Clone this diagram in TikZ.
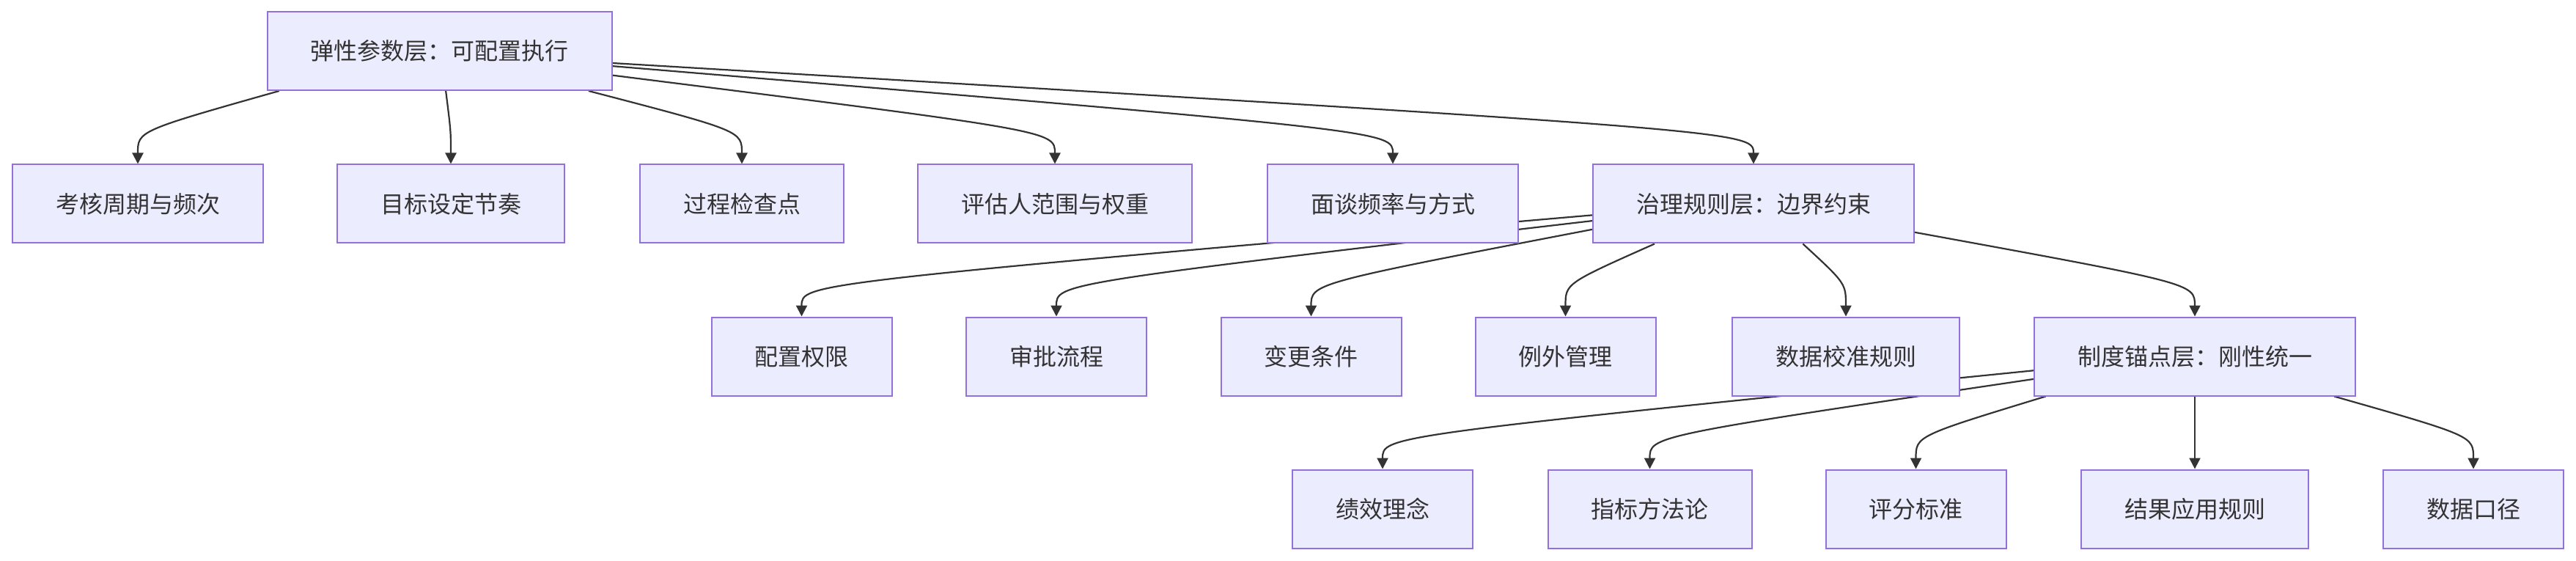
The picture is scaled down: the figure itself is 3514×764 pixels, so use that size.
\documentclass[tikz,border=0pt]{standalone}
\usepackage{fontspec}
\newfontfamily\cjkfont{Noto Sans CJK SC}
\usepackage{xcolor}
\definecolor{node-fill}{HTML}{ECECFF}
\definecolor{node-line}{HTML}{9370DB}
\definecolor{jet}{HTML}{333333}
\usetikzlibrary{arrows.meta}
\pgfdeclarelayer{bg}
\pgfsetlayers{bg,main}

\begin{document}
\begin{tikzpicture}[x=1pt, y=1pt,
    every node/.style={font=\cjkfont\fontsize{32}{38}\selectfont, text=jet},
    tier/.style={draw=node-line, fill=node-fill, line width=2pt, minimum height=107pt, inner xsep=59pt},
    link/.style={draw=jet, line width=2.2pt, -{Triangle[length=15pt,width=15pt]}}]
  \useasboundingbox (0,0) rectangle (3514,764);

  \node[tier] (root) at (599.5,694.5) {弹性参数层：可配置执行};

  \node[tier] (cyc) at (188,486) {考核周期与频次};
  \node[tier] (tgt) at (615,486) {目标设定节奏};
  \node[tier] (chk) at (1012,486) {过程检查点};
  \node[tier] (rev) at (1439,486) {评估人范围与权重};
  \node[tier] (itv) at (1900,486) {面谈频率与方式};
  \node[tier] (gov) at (2392,486) {治理规则层：边界约束};

  \node[tier] (cfg) at (1093.5,278) {配置权限};
  \node[tier] (apv) at (1441,278) {审批流程};
  \node[tier] (chg) at (1788.5,278) {变更条件};
  \node[tier] (exc) at (2135.5,278) {例外管理};
  \node[tier] (cal) at (2518,278) {数据校准规则};
  \node[tier] (anc) at (2994,278) {制度锚点层：刚性统一};

  \node[tier] (phi) at (1886,70) {绩效理念};
  \node[tier] (met) at (2250.5,70) {指标方法论};
  \node[tier] (scr) at (2613.5,70) {评分标准};
  \node[tier] (res) at (2994,70) {结果应用规则};
  \node[tier] (dat) at (3374,70) {数据口径};

  \begin{pgfonlayer}{bg}
    \draw[link] (root.194.1) .. controls ([yshift=45pt]cyc.north) .. (cyc.north);
    \draw[link] (root.279) .. controls ([yshift=45pt]tgt.north) .. (tgt.north);
    \draw[link] (root.345.9) .. controls ([yshift=45pt]chk.north) .. (chk.north);
    \draw[link] (root.352.9) .. controls ([yshift=45pt]rev.north) .. (rev.north);
    \draw[link] (root.355.3) .. controls ([yshift=45pt]itv.north) .. (itv.north);
    \draw[link] (root.356.7) .. controls ([yshift=45pt]gov.north) .. (gov.north);

    \draw[link] (gov.184.5) .. controls ([yshift=45pt]cfg.north) .. (cfg.north);
    \draw[link] (gov.186.1) .. controls ([yshift=45pt]apv.north) .. (apv.north);
    \draw[link] (gov.189.6) .. controls ([yshift=45pt]chg.north) .. (chg.north);
    \draw[link] (gov.202) .. controls ([yshift=45pt]exc.north) .. (exc.north);
    \draw[link] (gov.321.1) .. controls ([yshift=45pt]cal.north) .. (cal.north);
    \draw[link] (gov.350.2) .. controls ([yshift=45pt]anc.north) .. (anc.north);

    \draw[link] (anc.185.5) .. controls ([yshift=45pt]phi.north) .. (phi.north);
    \draw[link] (anc.188) .. controls ([yshift=45pt]met.north) .. (met.north);
    \draw[link] (anc.195) .. controls ([yshift=45pt]scr.north) .. (scr.north);
    \draw[link] (anc.south) -- (res.north);
    \draw[link] (anc.344.7) .. controls ([yshift=45pt]dat.north) .. (dat.north);
  \end{pgfonlayer}
\end{tikzpicture}
\end{document}
